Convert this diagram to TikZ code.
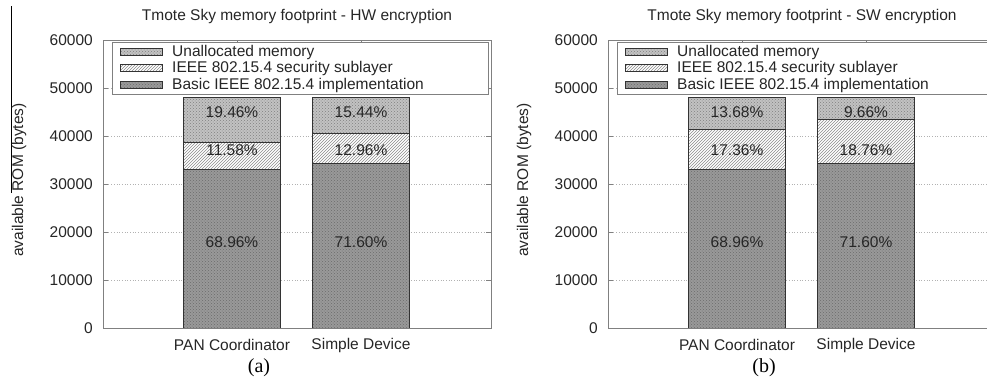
\documentclass[tikz,border=0pt]{standalone}
\usepackage{fontspec}
\setmainfont{Liberation Sans}
\newfontfamily\capfont{Liberation Serif}
\usetikzlibrary{patterns}

\tikzset{
  txt/.style={font=\fontsize{15.5}{18}\selectfont, text=black!85, inner sep=0pt},
  plotbox/.style={draw=black!50, line width=0.8pt},
  gridline/.style={draw=black!30, dotted, line width=0.7pt},
  unalloc/.style={draw=black!80, line width=0.8pt, preaction={fill=black!24}, pattern=crosshatch dots, pattern color=black!50},
  secure/.style={draw=black!80, line width=0.8pt, preaction={fill=white}, pattern=north east lines, pattern color=black!45},
  basic/.style={draw=black!80, line width=0.8pt, preaction={fill=black!40}, pattern=crosshatch dots, pattern color=black!58},
}

\begin{document}
\begin{tikzpicture}[x=1pt,y=-1pt]
    \useasboundingbox (0,0) rectangle (987,386);
    \clip (0,0) rectangle (987,386);
    \draw[line width=1pt] (11.5,6) -- (11.5,193);
    % one panel for each encryption mode
    \foreach \dx/\enc/\sub/\pa/\pb/\pu/\sa/\sb/\su in {
        0/HW/a/68.96/11.58/19.46/71.60/12.96/15.44,
        505/SW/b/68.96/17.36/13.68/71.60/18.76/9.66}{
      \begin{scope}[xshift=\dx pt]
        \node[txt] (title\sub) at (297,16) {Tmote Sky memory footprint - \enc\ encryption};
        \node[txt,rotate=90] (ylab\sub) at (19,180) {available ROM (bytes)};
        % grid and ticks
        \foreach \v in {0,...,6}{
          \pgfmathsetmacro\yy{328-48*\v}
          \node[txt,anchor=east] (tick\sub\v) at (93,\yy) {\ifnum\v=0 0\else\v0000\fi};
          \ifnum\v>0 \ifnum\v<6
            \draw[gridline] (103,\yy) -- (491,\yy);
          \fi\fi
          \draw[draw=black!50,line width=0.7pt] (103,\yy) -- (108,\yy) (486,\yy) -- (491,\yy);
        }
        \draw[gridline] (237,40) -- (237,328) (361,40) -- (361,328);
        \draw[draw=black!50,line width=0.7pt] (237,40) -- (237,45) (361,40) -- (361,45);
        % bars
        \pgfmathsetmacro\pab{328-2.304*\pa}
        \pgfmathsetmacro\pbt{328-2.304*(\pa+\pb)}
        \pgfmathsetmacro\sab{328-2.304*\sa}
        \pgfmathsetmacro\sbt{328-2.304*(\sa+\sb)}
        \draw[basic] (183,328) rectangle (280,\pab);
        \draw[secure] (183,\pab) rectangle (280,\pbt);
        \draw[unalloc] (183,\pbt) rectangle (280,97.6);
        \draw[basic] (312,328) rectangle (409,\sab);
        \draw[secure] (312,\sab) rectangle (409,\sbt);
        \draw[unalloc] (312,\sbt) rectangle (409,97.6);
        \node[txt] (pu\sub) at (232,112) {\pu\%};
        \node[txt] (pb\sub) at (232,150) {\pb\%};
        \node[txt] (pa\sub) at (232,242) {\pa\%};
        \node[txt] (su\sub) at (361,112) {\su\%};
        \node[txt] (sb\sub) at (361,150) {\sb\%};
        \node[txt] (sa\sub) at (361,242) {\sa\%};
        \draw[plotbox] (103,40) rectangle (491,328);
        % legend
        \draw[plotbox,fill=white] (112,42) rectangle (488,94);
        \draw[unalloc] (120,48) rectangle (162,55);
        \draw[secure] (120,64.5) rectangle (162,71.5);
        \draw[basic] (120,81) rectangle (162,88);
        \node[txt,anchor=west] (lu\sub) at (172,52) {Unallocated memory};
        \node[txt,anchor=west] (ls\sub) at (172,68) {IEEE 802.15.4 security sublayer};
        \node[txt,anchor=west] (lb\sub) at (172,85) {Basic IEEE 802.15.4 implementation};
        % categories and caption
        \node[txt] (pan\sub) at (232,345) {PAN Coordinator};
        \node[txt] (dev\sub) at (361,345) {Simple Device};
        \node[font=\capfont\fontsize{20}{22}\selectfont,inner sep=0pt] (cap\sub) at (259,368) {(\sub)};
      \end{scope}
    }
\end{tikzpicture}
\end{document}
